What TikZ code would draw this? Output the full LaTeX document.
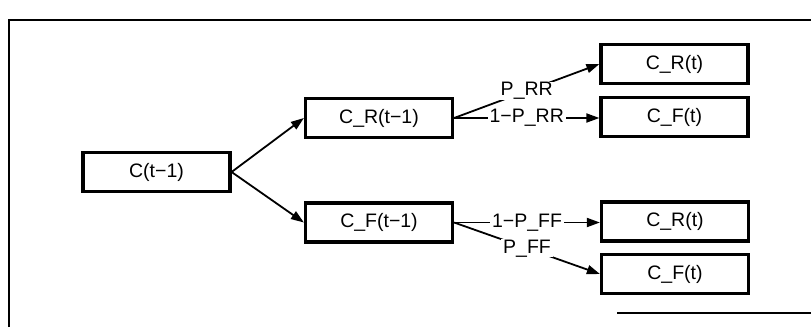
\documentclass[tikz,border=0pt]{standalone}
\usepackage{fontspec}
\setmainfont{Liberation Sans}
\usetikzlibrary{arrows.meta}
\begin{document}
\begin{tikzpicture}[x=1pt,y=-1pt,
  box/.style={draw,line width=3.2pt,minimum width=147pt,minimum height=39pt,inner sep=0pt,font=\fontsize{19.5}{22}\selectfont},
  conn/.style={line width=1.8pt,-{Triangle[length=13pt,width=9pt]}},
  lab/.style={fill=white,inner xsep=2pt,inner ysep=0.5pt,font=\fontsize{19.5}{22}\selectfont}]
\useasboundingbox (0,0) rectangle (811,327);
\fill[white] (0,0) rectangle (811,327);
% frame
\coordinate (fa) at (9,327);
\coordinate (fb) at (9,20);
\coordinate (fc) at (811,20);
\coordinate (fd) at (617,313);
\coordinate (fe) at (811,313);
\draw[line width=2.2pt] (fa) -- (fb) -- (fc);
\draw[line width=2.2pt] (fd) -- (fe);
% nodes
\node[box] (c) at (156.5,172) {C(t−1)};
\node[box] (cr) at (379,118) {C\_R(t−1)};
\node[box] (cf) at (379,222.5) {C\_F(t−1)};
\node[box] (r1) at (674.5,64) {C\_R(t)};
\node[box] (f1) at (674.5,117) {C\_F(t)};
\node[box] (r2) at (675,221.5) {C\_R(t)};
\node[box] (f2) at (675,274) {C\_F(t)};
% connectors
\draw[conn] (c.east) -- (cr.west);
\draw[conn] (c.east) -- (cf.west);
\draw[conn] (cr.east) -- node[lab] {P\_RR} (r1.west);
\draw[conn] (cr.east) -- node[lab] {1−P\_RR} (cr.east -| f1.west);
\draw[conn] (cf.east) -- node[lab] {1−P\_FF} (cf.east -| r2.west);
\draw[conn] (cf.east) -- node[lab] {P\_FF} (f2.west);
\end{tikzpicture}
\end{document}
